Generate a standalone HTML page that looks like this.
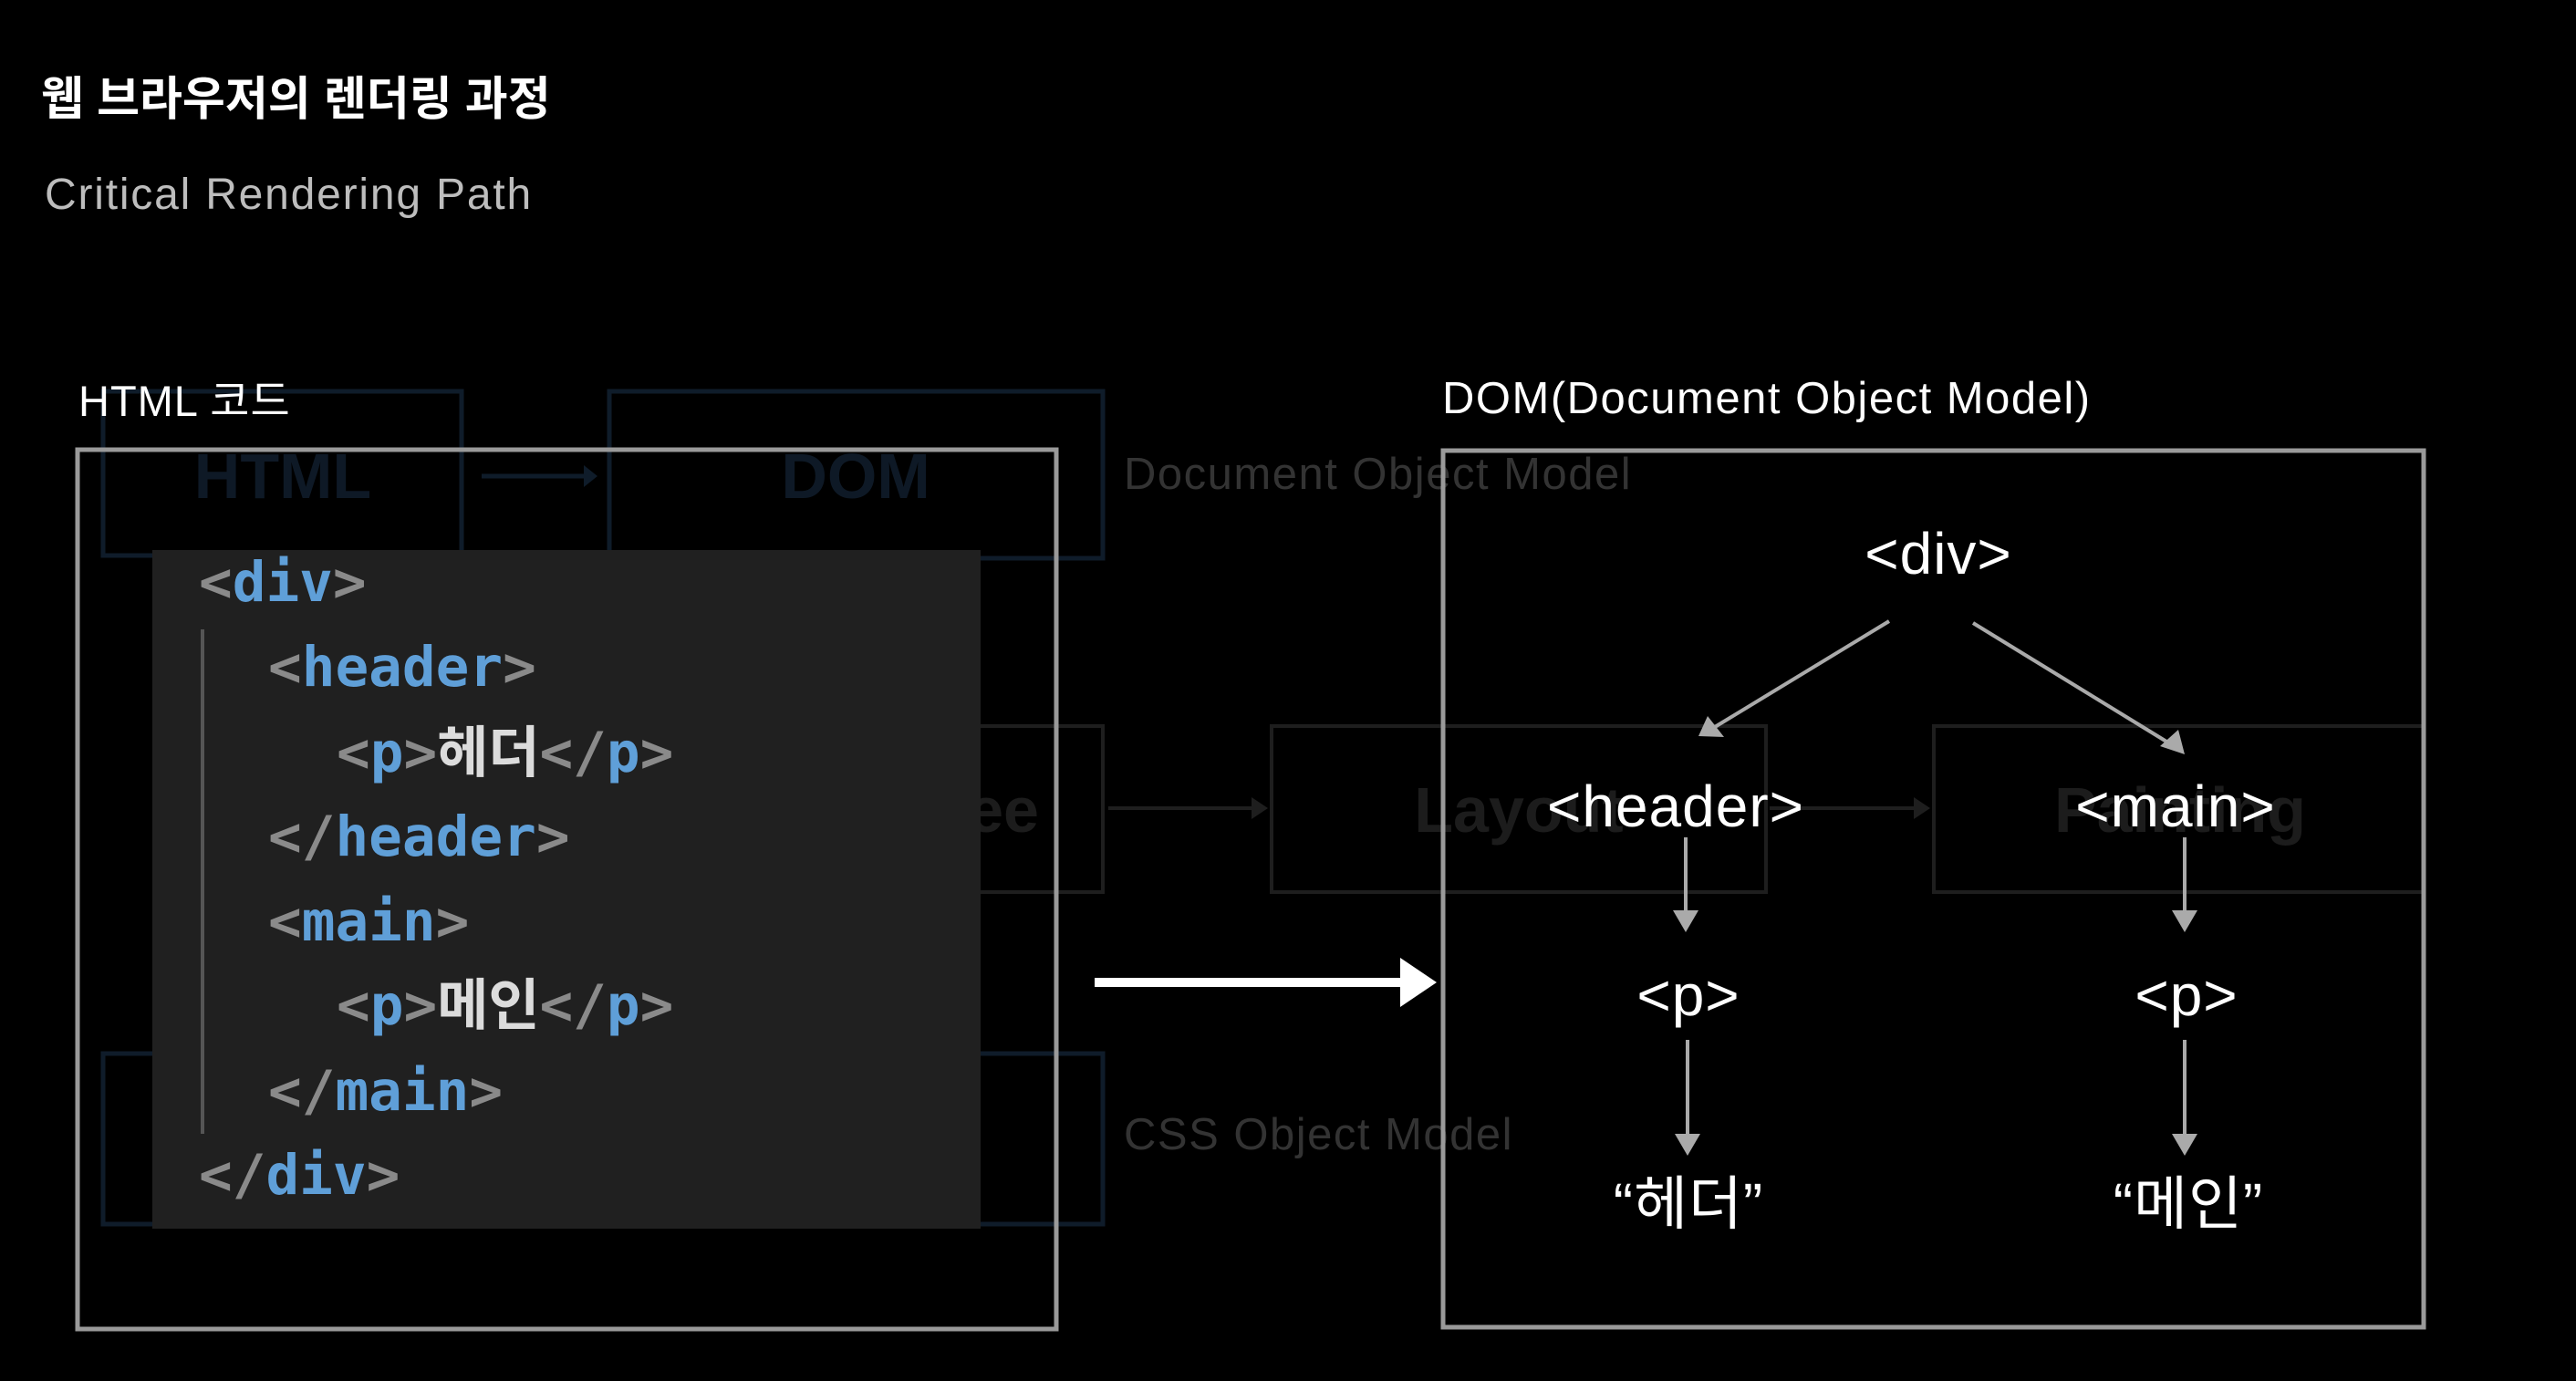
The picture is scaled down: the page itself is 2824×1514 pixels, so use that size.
<!DOCTYPE html>
<html><head><meta charset="utf-8"><style>
html,body{margin:0;padding:0;background:#000;}
body{width:2824px;height:1514px;overflow:hidden;}
svg{display:block;}
.k{font-family:"Liberation Sans","Noto Sans CJK KR",sans-serif;}
.m{font-family:"DejaVu Sans Mono","Liberation Mono","Noto Sans CJK KR",monospace;font-size:61px;font-weight:bold;}
.b{fill:#8a8a8a}.t{fill:#5f9fd8}.w{fill:#dcdcdc}
</style></head><body>
<svg width="2824" height="1514" viewBox="0 0 2824 1514" xmlns="http://www.w3.org/2000/svg">
<rect width="2824" height="1514" fill="#000"/>
<g fill="none" stroke="#0f1c2a" stroke-width="5">
<rect x="113" y="429" width="393" height="180"/>
<rect x="668" y="429" width="541" height="183"/>
<rect x="113" y="1155" width="1096" height="187"/>
</g>
<g fill="none" stroke="#1e1e1e" stroke-width="4">
<rect x="900" y="796" width="309" height="182"/>
<rect x="1394" y="796" width="542" height="182"/>
<rect x="2120" y="796" width="537" height="182"/>
<line x1="1215" y1="886" x2="1375" y2="886"/>
<line x1="1940" y1="886" x2="2100" y2="886"/>
</g>
<polygon points="1372,874 1390,886 1372,898" fill="#1e1e1e"/>
<polygon points="2098,874 2116,886 2098,898" fill="#1e1e1e"/>
<line x1="528" y1="522" x2="640" y2="522" stroke="#0f1c2a" stroke-width="5"/>
<polygon points="640,510 655,522 640,534" fill="#0f1c2a"/>
<g class="k" font-weight="bold" font-size="70" text-anchor="middle">
<text x="310" y="546" fill="#0e1926">HTML</text>
<text x="938" y="546" fill="#0e1926">DOM</text>
<text x="1100" y="912" fill="#1c1c1c">ee</text>
<text x="1665" y="912" fill="#1c1c1c">Layout</text>
<text x="2390" y="912" fill="#1c1c1c">Painting</text>
</g>
<g class="k" font-size="49" fill="#333" letter-spacing="1.5">
<text x="1232" y="536">Document Object Model</text>
<text x="1232" y="1260">CSS Object Model</text>
</g>
<text class="k" x="45" y="126" font-size="51" font-weight="bold" fill="#fff">웹 브라우저의 렌더링 과정</text>
<text class="k" x="49" y="229" font-size="48" fill="#bdbdbd" letter-spacing="1.8">Critical Rendering Path</text>
<text class="k" x="86" y="456" font-size="47" fill="#fff" letter-spacing="1">HTML 코드</text>
<text class="k" x="1581" y="453" font-size="49" fill="#fff" letter-spacing="1.5">DOM(Document Object Model)</text>
<rect x="85" y="493" width="1073" height="964" fill="none" stroke="#9a9a9a" stroke-width="5"/>
<rect x="1582" y="494" width="1075" height="961" fill="none" stroke="#9a9a9a" stroke-width="5"/>
<rect x="167" y="603" width="908" height="744" fill="#202020"/>
<line x1="222" y1="690" x2="222" y2="1243" stroke="#555" stroke-width="4"/>
<g class="m">
<text x="218" y="659"><tspan class="b">&lt;</tspan><tspan class="t">div</tspan><tspan class="b">&gt;</tspan></text>
<text x="294" y="752"><tspan class="b">&lt;</tspan><tspan class="t">header</tspan><tspan class="b">&gt;</tspan></text>
<text x="369" y="846"><tspan class="b">&lt;</tspan><tspan class="t">p</tspan><tspan class="b">&gt;</tspan><tspan class="w">헤더</tspan><tspan class="b">&lt;/</tspan><tspan class="t">p</tspan><tspan class="b">&gt;</tspan></text>
<text x="294" y="938"><tspan class="b">&lt;/</tspan><tspan class="t">header</tspan><tspan class="b">&gt;</tspan></text>
<text x="294" y="1031"><tspan class="b">&lt;</tspan><tspan class="t">main</tspan><tspan class="b">&gt;</tspan></text>
<text x="369" y="1123"><tspan class="b">&lt;</tspan><tspan class="t">p</tspan><tspan class="b">&gt;</tspan><tspan class="w">메인</tspan><tspan class="b">&lt;/</tspan><tspan class="t">p</tspan><tspan class="b">&gt;</tspan></text>
<text x="294" y="1217"><tspan class="b">&lt;/</tspan><tspan class="t">main</tspan><tspan class="b">&gt;</tspan></text>
<text x="218" y="1309"><tspan class="b">&lt;/</tspan><tspan class="t">div</tspan><tspan class="b">&gt;</tspan></text>
</g>
<line x1="1200" y1="1077" x2="1540" y2="1077" stroke="#fff" stroke-width="10"/>
<polygon points="1535,1050 1575,1077 1535,1104" fill="#fff"/>
<g class="k" font-size="64" fill="#fff" text-anchor="middle" letter-spacing="1">
<text x="2125" y="629">&lt;div&gt;</text>
<text x="1837" y="906">&lt;header&gt;</text>
<text x="2385" y="906">&lt;main&gt;</text>
<text x="1851" y="1113">&lt;p&gt;</text>
<text x="2397" y="1113">&lt;p&gt;</text>
<text x="1851" y="1342">“헤더”</text>
<text x="2399" y="1342">“메인”</text>
</g>
<g stroke="#aaa" stroke-width="4">
<line x1="2071" y1="681" x2="1875" y2="800"/>
<line x1="2163" y1="683" x2="2380" y2="816"/>
<line x1="1848" y1="918" x2="1848" y2="1000"/>
<line x1="2395" y1="918" x2="2395" y2="1000"/>
<line x1="1850" y1="1140" x2="1850" y2="1245"/>
<line x1="2395" y1="1140" x2="2395" y2="1245"/>
</g>
<g fill="#aaa">
<polygon points="1862,807 1890,808 1872,785"/>
<polygon points="2395,827 2388,800 2368,818"/>
<polygon points="1834,998 1862,998 1848,1022"/>
<polygon points="2381,998 2409,998 2395,1022"/>
<polygon points="1836,1243 1864,1243 1850,1267"/>
<polygon points="2381,1243 2409,1243 2395,1267"/>
</g>
</svg>
</body></html>
